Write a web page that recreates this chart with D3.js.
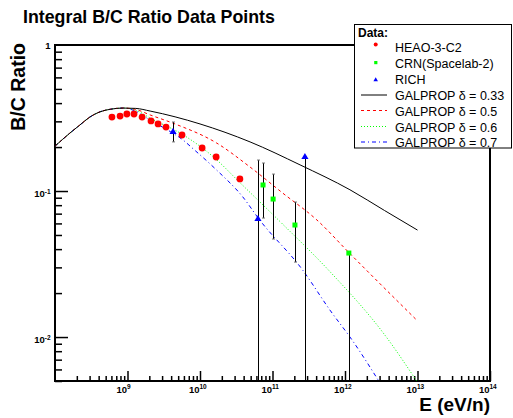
<!DOCTYPE html>
<html lang="en">
<head>
<meta charset="UTF-8">
<title>Integral B/C Ratio</title>
<script src="https://d3js.org/d3.v7.min.js"></script>
<style>
    body { margin: 0; background: #fff; }
    text { font-family: "Liberation Sans", Arial, Helvetica, sans-serif; }
    .bold { font-weight: bold; }
</style>
</head>
<body>
<svg id="chart" width="513" height="418"></svg>
<script>
// values
const commonE = [1.0e8, 1.6e8, 2.2e8, 3.0e8, 4.2e8, 5.8e8, 8.7e8];
const commonR = [0.203, 0.249, 0.283, 0.320, 0.349, 0.363, 0.370];

const d033E = [1.3e9, 2.05e9, 1.0e10, 4.9e10, 2.4e11, 1.17e12, 3.5e12, 1.0e13];
const d033R = [0.368, 0.353, 0.288, 0.217, 0.151, 0.102, 0.0736, 0.054];

const d05E = [1.3e9, 2.05e9, 4.2e9, 1.7e10, 4.9e10, 1.38e11, 4.1e11, 1.15e12, 1.0e13];
const d05R = [0.362, 0.332, 0.292, 0.213, 0.146, 0.0969, 0.0633, 0.0376, 0.0129];

const d06E = [1.3e9, 2.05e9, 5.9e9, 1.6e10, 3.5e10, 1.42e11, 5.9e11, 3.8e12, 1.0e13];
const d06R = [0.358, 0.316, 0.242, 0.168, 0.115, 0.0585, 0.0288, 0.00985, 0.0049];

const d07E = [1.3e9, 2.05e9, 3.9e9, 5.8e9, 8.0e9, 1.7e10, 3.9e10, 6.5e10, 2.6e11, 6.2e11, 1.26e12, 3.0e12];
const d07R = [0.352, 0.306, 0.255, 0.224, 0.195, 0.139, 0.091, 0.0643, 0.0288, 0.0153, 0.0095, 0.0049];

const heaoE = [6.1e8, 7.9e8, 9.8e8, 1.23e9, 1.59e9, 2.11e9, 2.64e9, 3.4e9, 5.65e9, 1.07e10, 1.67e10, 3.55e10];
const heaoR = [0.321, 0.326, 0.337, 0.337, 0.321, 0.302, 0.288, 0.274, 0.242, 0.197, 0.171, 0.121];

const crnE  = [7.4e10, 1.02e11, 2.04e11, 1.13e12];
const crnR  = [0.110, 0.0881, 0.0585, 0.0376];
const crnHi = [0.1555, 0.1306, 0.0841, 0.0376];
const crnLo = [0.0653, 0.0469, 0.0326, 0.001];

const richE  = [4.25e9, 6.3e10, 2.8e11];
const richR  = [0.254, 0.0643, 0.171];
const richHi = [0.297, 0.163, 0.171];
const richLo = [0.217, 0.001, 0.001];

const xLabelExps = [9, 10, 11, 12, 13, 14];
const yLabelExps = [-2, -1, 0];

const svg = d3.select("#chart");
const fLeft = 55, fRight = 490, fTop = 45, fBottom = 381;

const x = d3.scaleLog().domain([1e8, 1e14]).range([fLeft, fRight]);
const y = d3.scaleLog().domain([0.005, 1]).range([fBottom, fTop]);

svg.append("defs").append("clipPath").attr("id", "frame")
    .append("rect").attr("x", fLeft).attr("y", fTop)
    .attr("width", fRight - fLeft).attr("height", fBottom - fTop);

// ticks
let xMinor = [], yMinor = [];
for (let k = 8; k < 14; k++) for (let m = 2; m < 10; m++) xMinor.push(m * Math.pow(10, k));
for (let k = -3; k < 0; k++) for (let m = 2; m < 10; m++) {
    let v = m * Math.pow(10, k);
    if (v >= 0.005 && v < 1) yMinor.push(v);
}
const xMajor = xLabelExps.map(e => Math.pow(10, e));
const yMajor = [0.01, 0.1];

function tickStyle(g) {
    g.select(".domain").remove();
    g.selectAll(".tick line").attr("stroke", "#000").attr("stroke-width", 1.5);
    g.selectAll(".tick text").remove();
}
svg.append("g").attr("transform", `translate(0,${fBottom})`)
    .call(d3.axisBottom(x).tickValues(xMinor).tickSize(-5)).call(tickStyle);
svg.append("g").attr("transform", `translate(0,${fBottom})`)
    .call(d3.axisBottom(x).tickValues(xMajor).tickSize(-10)).call(tickStyle);
svg.append("g").attr("transform", `translate(${fLeft},0)`)
    .call(d3.axisLeft(y).tickValues(yMinor).tickSize(-7)).call(tickStyle);
svg.append("g").attr("transform", `translate(${fLeft},0)`)
    .call(d3.axisLeft(y).tickValues(yMajor).tickSize(-13)).call(tickStyle);

// frame
svg.append("rect").attr("x", fLeft).attr("y", fTop)
    .attr("width", fRight - fLeft).attr("height", fBottom - fTop)
    .attr("fill", "none").attr("stroke", "#000").attr("stroke-width", 2);

// tick labels
xLabelExps.forEach(e => {
    let px = x(Math.pow(10, e));
    svg.append("text").attr("class", "bold").attr("x", px - 0.5).attr("y", 392.5)
        .attr("text-anchor", "end").attr("font-size", 9.5).text("10");
    svg.append("text").attr("class", "bold").attr("x", px - 0.5).attr("y", 389)
        .attr("font-size", 6.5).text(e);
});
yLabelExps.forEach(e => {
    let py = y(Math.pow(10, e));
    let t = svg.append("text").attr("class", "bold").attr("text-anchor", "end")
        .attr("font-size", 9.5);
    if (e === 0) {
        t.attr("x", 50.5).attr("y", py + 4).text("1");
    } else {
        t.attr("x", 50.5).attr("y", py + 6).text("10");
        t.append("tspan").attr("font-size", 6.5).attr("dy", -3.5).text(e);
    }
});

// curves
const line = d3.line().x(d => x(d[0])).y(d => y(d[1])).curve(d3.curveMonotoneX);
function series(E, R) {
    return commonE.map((e, i) => [e, commonR[i]]).concat(E.map((e, i) => [e, R[i]]));
}
const curves = [
    { E: d033E, R: d033R, color: "#000000", dash: null },
    { E: d05E,  R: d05R,  color: "#ff0000", dash: "3,3" },
    { E: d06E,  R: d06R,  color: "#00ff00", dash: "1,2" },
    { E: d07E,  R: d07R,  color: "#0000ff", dash: "4,3,1,3" }
];
const plot = svg.append("g").attr("clip-path", "url(#frame)");
curves.slice().reverse().forEach(c => {
    plot.append("path").attr("d", line(series(c.E, c.R)))
        .attr("fill", "none").attr("stroke", c.color).attr("stroke-width", 1)
        .attr("stroke-dasharray", c.dash);
});

// error bars
function bars(E, Hi, Lo) {
    E.forEach((e, i) => {
        let px = Math.round(x(e)) + 0.5;
        plot.append("line").attr("x1", px).attr("x2", px)
            .attr("y1", y(Hi[i])).attr("y2", y(Lo[i]))
            .attr("stroke", "#000").attr("stroke-width", 1);
        [Hi[i], Lo[i]].forEach(v => {
            plot.append("line").attr("x1", px - 1.5).attr("x2", px + 1.5)
                .attr("y1", y(v)).attr("y2", y(v))
                .attr("stroke", "#777").attr("stroke-width", 1);
        });
    });
}
bars(crnE, crnHi, crnLo);
bars(richE, richHi, richLo);

// markers
svg.selectAll(".heao").data(heaoE).enter().append("circle")
    .attr("cx", d => x(d)).attr("cy", (d, i) => y(heaoR[i])).attr("r", 3.4)
    .attr("fill", "#ff0000");
svg.selectAll(".crn").data(crnE).enter().append("rect")
    .attr("x", d => x(d) - 2.5).attr("y", (d, i) => y(crnR[i]) - 2.5)
    .attr("width", 5).attr("height", 5).attr("fill", "#00ff00");
const tri = d3.symbol().type(d3.symbolTriangle).size(22);
svg.selectAll(".rich").data(richE).enter().append("path")
    .attr("d", tri)
    .attr("transform", (d, i) => `translate(${x(d)},${y(richR[i])})`)
    .attr("fill", "#0000ff");

// titles
svg.append("text").attr("class", "bold").attr("x", 23).attr("y", 23)
    .attr("font-size", 17.8).text("Integral B/C Ratio Data Points");
svg.append("text").attr("class", "bold").attr("text-anchor", "end")
    .attr("transform", "translate(25,43) rotate(-90)")
    .attr("font-size", 19.5).text("B/C Ratio");
svg.append("text").attr("class", "bold").attr("text-anchor", "end")
    .attr("x", 490).attr("y", 411).attr("font-size", 19).text("E (eV/n)");

// legend
const legendNames = ["HEAO-3-C2", "CRN(Spacelab-2)", "RICH",
    "GALPROP \u03b4 = 0.33", "GALPROP \u03b4 = 0.5", "GALPROP \u03b4 = 0.6", "GALPROP \u03b4 = 0.7"];
const lg = svg.append("g");
lg.append("rect").attr("x", 354.5).attr("y", 24.5).attr("width", 157).attr("height", 123.5)
    .attr("fill", "#fff").attr("stroke", "#000").attr("stroke-width", 1);
lg.append("text").attr("class", "bold").attr("x", 358).attr("y", 37)
    .attr("font-size", 12).text("Data:");
const rowY = [47.5, 63.5, 80, 96, 111.5, 127.5, 143];
legendNames.forEach((n, i) => {
    lg.append("text").attr("x", 395).attr("y", rowY[i] + 4.2)
        .attr("font-size", 12.5).text(n);
});
lg.append("circle").attr("cx", 375.7).attr("cy", rowY[0] - 3).attr("r", 2).attr("fill", "#ff0000");
lg.append("rect").attr("x", 374.2).attr("y", rowY[1] - 2.5).attr("width", 3.2).attr("height", 3.2).attr("fill", "#00ff00");
lg.append("path").attr("d", d3.symbol().type(d3.symbolTriangle).size(9))
    .attr("transform", `translate(375.7,${rowY[2]})`).attr("fill", "#0000ff");
curves.forEach((c, i) => {
    lg.append("line").attr("x1", 361).attr("x2", 387)
        .attr("y1", rowY[3 + i] - 1).attr("y2", rowY[3 + i] - 1)
        .attr("stroke", c.color).attr("stroke-width", 1).attr("stroke-dasharray", c.dash);
});
</script>
</body>
</html>
